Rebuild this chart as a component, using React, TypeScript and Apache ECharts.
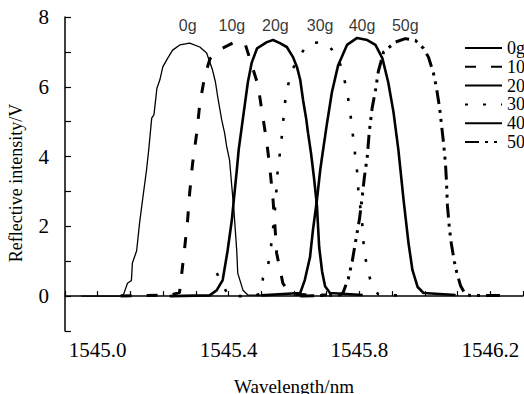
import React, { useEffect, useRef } from "react";
import * as echarts from "echarts";

// ---- data (wavelength nm, reflective intensity V) ----
const seriesNames = ["0g", "10g", "20g", "30g", "40g", "50g"];

const x0g = [1544.95, 1545.005, 1545.067, 1545.079, 1545.091, 1545.103, 1545.106, 1545.119, 1545.128, 1545.137, 1545.149, 1545.156, 1545.165, 1545.172, 1545.181, 1545.19, 1545.199, 1545.214, 1545.229, 1545.251, 1545.281, 1545.312, 1545.333, 1545.351, 1545.36, 1545.367, 1545.379, 1545.388, 1545.394, 1545.403, 1545.41, 1545.416, 1545.425, 1545.428, 1545.444, 1545.459, 1545.52];
const y0g = [0, 0, 0, 0.05, 0.37, 0.45, 0.95, 1.3, 2.1, 2.75, 3.6, 4.2, 5.1, 5.2, 5.96, 6.2, 6.57, 6.82, 7.05, 7.2, 7.25, 7.14, 6.97, 6.48, 6.13, 5.7, 5.05, 4.67, 4.3, 3.9, 3.13, 2.5, 1.3, 0.66, 0.17, 0.03, 0.02];

const x10g = [1545.07, 1545.15, 1545.22, 1545.25, 1545.257, 1545.266, 1545.275, 1545.281, 1545.29, 1545.303, 1545.312, 1545.327, 1545.343, 1545.38, 1545.419, 1545.45, 1545.465, 1545.49, 1545.502, 1545.517, 1545.527, 1545.536, 1545.542, 1545.547, 1545.566, 1545.588, 1545.7];
const y10g = [0, 0.02, 0.03, 0.1, 0.66, 1.4, 2.2, 2.95, 3.8, 4.7, 5.5, 6.3, 6.8, 7.1, 7.28, 7.25, 6.8, 6.05, 5.3, 4.4, 3.6, 2.75, 1.97, 1.23, 0.37, 0.05, 0.03];

const x20g = [1545.22, 1545.342, 1545.364, 1545.382, 1545.397, 1545.41, 1545.416, 1545.425, 1545.431, 1545.444, 1545.459, 1545.471, 1545.487, 1545.517, 1545.536, 1545.557, 1545.578, 1545.597, 1545.609, 1545.619, 1545.628, 1545.637, 1545.643, 1545.652, 1545.661, 1545.67, 1545.677, 1545.686, 1545.695, 1545.71, 1545.81];
const y20g = [0, 0.02, 0.17, 0.46, 1.3, 2.18, 2.75, 3.6, 4.2, 5.1, 6.13, 6.7, 7.1, 7.28, 7.34, 7.25, 7.14, 6.85, 6.57, 6.2, 5.6, 5.1, 4.67, 4.1, 3.4, 2.6, 1.4, 0.7, 0.28, 0.09, 0.03];

const x30g = [1545.364, 1545.4, 1545.48, 1545.502, 1545.505, 1545.517, 1545.527, 1545.533, 1545.542, 1545.547, 1545.55, 1545.557, 1545.563, 1545.572, 1545.582, 1545.594, 1545.619, 1545.643, 1545.695, 1545.732, 1545.747, 1545.759, 1545.768, 1545.775, 1545.781, 1545.787, 1545.793, 1545.796, 1545.802, 1545.808, 1545.811, 1545.817, 1545.827, 1545.839, 1545.858, 1545.96];
const y30g = [0.66, 0, 0, 0.1, 0.52, 0.69, 1.23, 1.66, 2.5, 3.13, 3.6, 4.1, 4.6, 5.53, 6.05, 6.48, 6.9, 7.25, 7.28, 6.9, 6.48, 6.0, 5.53, 5.02, 4.53, 4.04, 3.56, 3.1, 2.6, 2.18, 1.66, 1.15, 0.69, 0.26, 0.05, 0];

const x40g = [1545.5, 1545.619, 1545.633, 1545.649, 1545.658, 1545.67, 1545.68, 1545.686, 1545.7, 1545.716, 1545.735, 1545.762, 1545.793, 1545.824, 1545.849, 1545.87, 1545.888, 1545.904, 1545.919, 1545.935, 1545.95, 1545.962, 1545.978, 1545.996, 1546.094];
const y40g = [0.02, 0.09, 0.46, 1.12, 1.9, 2.75, 3.6, 4.0, 4.9, 5.85, 6.62, 7.2, 7.4, 7.34, 7.2, 6.82, 6.13, 5.28, 4.2, 2.75, 1.52, 0.75, 0.26, 0.09, 0.03];

const x50g = [1545.619, 1545.74, 1545.75, 1545.766, 1545.778, 1545.787, 1545.8, 1545.808, 1545.815, 1545.824, 1545.83, 1545.839, 1545.849, 1545.858, 1545.874, 1545.91, 1545.94, 1545.971, 1545.996, 1546.011, 1546.026, 1546.035, 1546.045, 1546.051, 1546.057, 1546.063, 1546.066, 1546.069, 1546.075, 1546.081, 1546.09, 1546.097, 1546.109, 1546.124, 1546.14, 1546.248];
const y50g = [0, 0.03, 0.1, 0.5, 1.0, 1.5, 2.2, 2.8, 3.4, 4.0, 4.7, 5.4, 5.9, 6.45, 7.0, 7.28, 7.38, 7.33, 7.1, 6.85, 6.4, 6.0, 5.4, 4.9, 4.4, 3.8, 3.3, 2.6, 1.95, 1.5, 1.0, 0.7, 0.3, 0.05, 0.02, 0.02];

// peak annotations
const peakLabels = ["0g", "10g", "20g", "30g", "40g", "50g"];
const peakLabelX = [1545.275, 1545.41, 1545.543, 1545.68, 1545.808, 1545.94];
const peakLabelY = [7.77, 7.77, 7.77, 7.77, 7.77, 7.77];

const xTickLabels = [1545.0, 1545.4, 1545.8, 1546.2];
const yTickLabels = [0, 2, 4, 6, 8];

const SERIF = "Liberation Serif";
const SANS = "Liberation Sans";

const zip = (xs: number[], ys: number[]) => xs.map((x, i) => [x, ys[i]]);

export default function App() {
  const ref = useRef<HTMLDivElement>(null);
  useEffect(() => {
    if (!ref.current) return;
    const chart = echarts.init(ref.current, null, { renderer: "svg" });
    const styles: any[] = [
      { width: 1.3, type: "solid" },
      { width: 3, type: [11, 15] },
      { width: 2.6, type: "solid" },
      { width: 2.6, type: [3, 15] },
      { width: 2.6, type: "solid" },
      { width: 3, type: [14, 6, 3, 6, 3, 6] },
    ];
    const datas = [
      zip(x0g, y0g),
      zip(x10g, y10g),
      zip(x20g, y20g),
      zip(x30g, y30g),
      zip(x40g, y40g),
      zip(x50g, y50g),
    ];
    const lineSeries = seriesNames.map((name, i) => ({
      name,
      type: "line",
      data: datas[i],
      symbol: "none",
      showSymbol: false,
      smooth: false,
      lineStyle: { color: "#000", cap: "butt", ...styles[i] },
      itemStyle: { color: "#000" },
      z: 2,
    }));
    chart.setOption({
      animation: false,
      backgroundColor: "#fff",
      grid: {
        left: 65,
        top: 17,
        right: 1,
        bottom: 63,
        containLabel: false,
        outerBoundsMode: "none",
      },
      legend: {
        data: seriesNames,
        orient: "vertical",
        left: 459,
        top: 34,
        itemWidth: 37,
        itemHeight: 14,
        itemGap: 0.8,
        itemStyle: { opacity: 0, borderWidth: 0 },
        textStyle: { fontFamily: SERIF, fontSize: 18, color: "#000" },
        selectedMode: false,
      },
      xAxis: {
        type: "value",
        min: 1544.9,
        max: 1546.3,
        interval: 0.1,
        name: "Wavelength/nm",
        nameLocation: "middle",
        nameGap: 46,
        nameMoveOverlap: false,
        nameTextStyle: { fontFamily: SERIF, fontSize: 19, color: "#000" },
        axisLine: { show: true, lineStyle: { color: "#000", width: 1.5 } },
        axisTick: { show: true, inside: true, length: 5, lineStyle: { color: "#000", width: 1.2 } },
        axisLabel: {
          margin: 8,
          fontFamily: SERIF,
          fontSize: 21,
          color: "#000",
          formatter: (v: number) =>
            xTickLabels.some((t) => Math.abs(t - v) < 1e-6) ? v.toFixed(1) : "",
        },
        splitLine: { show: false },
      },
      yAxis: {
        type: "value",
        min: -1,
        max: 8,
        interval: 1,
        name: "Reflective intensity/V",
        nameLocation: "middle",
        nameGap: 40,
        nameMoveOverlap: false,
        nameTextStyle: { fontFamily: SERIF, fontSize: 18, color: "#000", padding: [0, 18, 0, 0] },
        axisLine: { show: true, lineStyle: { color: "#000", width: 1.5 } },
        axisTick: { show: true, inside: true, length: 6, lineStyle: { color: "#000", width: 1.2 } },
        axisLabel: {
          margin: 16,
          fontFamily: SERIF,
          fontSize: 21,
          color: "#000",
          formatter: (v: number) =>
            yTickLabels.some((t) => Math.abs(t - v) < 1e-6) ? String(v) : "",
        },
        splitLine: { show: false },
      },
      series: [
        ...lineSeries,
        {
          name: "peaks",
          type: "scatter",
          data: peakLabels.map((l, i) => ({ name: l, value: [peakLabelX[i], peakLabelY[i]] })),
          symbolSize: 0,
          silent: true,
          label: {
            show: true,
            position: "inside",
            formatter: (p: any) => p.name,
            fontFamily: SANS,
            fontSize: 16,
            color: "#000",
          },
          z: 5,
        },
      ],
    });
    return () => chart.dispose();
  }, []);
  return (
    <div
      ref={ref}
      style={{ position: "fixed", left: 0, top: 0, width: 524, height: 394, background: "#fff" }}
    />
  );
}
